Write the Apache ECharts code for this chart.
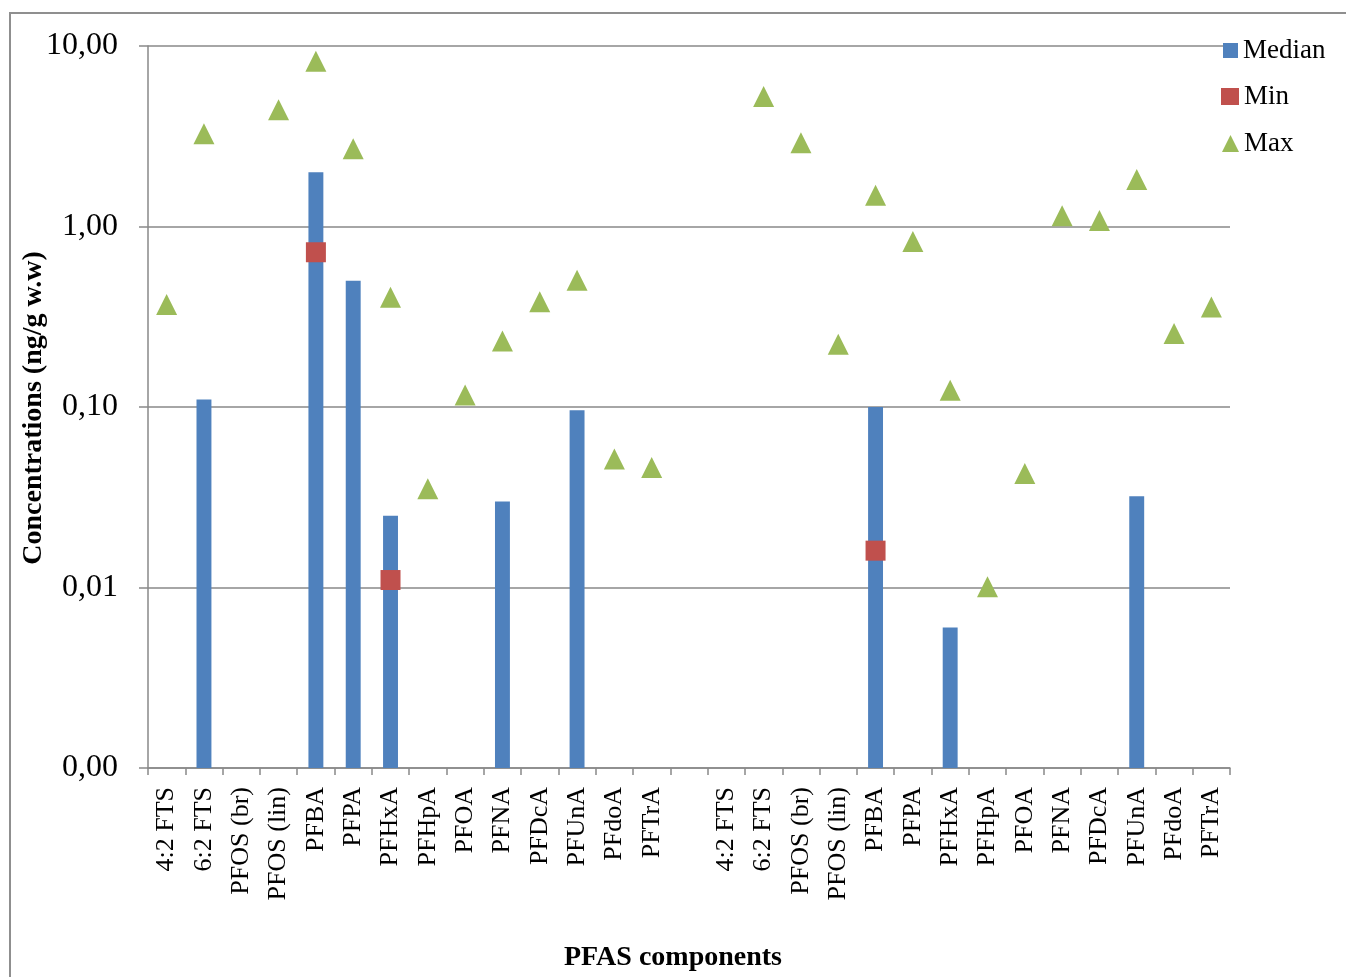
<!DOCTYPE html>
<html>
<head>
<meta charset="utf-8">
<title>PFAS components</title>
<script src="https://cdn.jsdelivr.net/npm/echarts@6/dist/echarts.min.js"></script>
<style>
  html, body { margin: 0; padding: 0; background: #ffffff; }
  #chart { width: 1346px; height: 977px; }
</style>
</head>
<body>
<div id="chart"></div>
<script>
// PFAS components, listed once per group (two groups separated by an empty slot)
const components = ['4:2 FTS', '6:2 FTS', 'PFOS (br)', 'PFOS (lin)', 'PFBA', 'PFPA', 'PFHxA',
  'PFHpA', 'PFOA', 'PFNA', 'PFDcA', 'PFUnA', 'PFdoA', 'PFTrA'];

// Concentrations in ng/g w.w (null = no value)
const medianGroup1 = [null, 0.11, null, null, 2.0, 0.5, 0.025, null, null, 0.03, null, 0.096, null, null];
const medianGroup2 = [null, null, null, null, 0.1, null, 0.006, null, null, null, null, 0.032, null, null];
const minGroup1 = [null, null, null, null, 0.72, null, 0.011, null, null, null, null, null, null, null];
const minGroup2 = [null, null, null, null, 0.016, null, null, null, null, null, null, null, null, null];
const maxGroup1 = [0.37, 3.26, null, 4.43, 8.22, 2.70, 0.406, 0.0353, 0.1165, 0.232, 0.383, 0.504, 0.0515, 0.0462];
const maxGroup2 = [null, 5.25, 2.91, 0.223, 1.49, 0.826, 0.124, 0.0101, 0.0428, 1.148, 1.08, 1.82, 0.255, 0.358];

// Logarithmic value axis range and decade tick labels
const yMin = 0.001;
const yMax = 10;
const yTickLabels = { '0.001': '0,00', '0.01': '0,01', '0.1': '0,10', '1': '1,00', '10': '10,00' };

const categories = [...components, '', ...components];
const medianAll = [...medianGroup1, null, ...medianGroup2];
const minAll = [...minGroup1, null, ...minGroup2];
const maxAll = [...maxGroup1, null, ...maxGroup2];

const serif = 'Liberation Serif, Times New Roman, serif';
const axisGrey = '#898989';

const toScatter = arr => arr.map(v => (v == null ? '-' : v));
const medianData = medianAll.map((v, i) => (v == null ? null : [i, v])).filter(Boolean);

const chart = echarts.init(document.getElementById('chart'), null, { renderer: 'canvas' });

chart.setOption({
  backgroundColor: '#ffffff',
  animation: false,
  textStyle: { fontFamily: serif, color: '#000000' },
  grid: { left: 148, right: 116, top: 46, bottom: 209, containLabel: false, outerBoundsMode: 'none' },
  graphic: [
    {
      type: 'rect', silent: true, z: -10,
      shape: { x: 10, y: 13, width: 1400, height: 1000 },
      style: { fill: null, stroke: '#8f8f8f', lineWidth: 2 }
    },
    {
      type: 'text', silent: true,
      x: 34, y: 408, rotation: Math.PI / 2,
      style: {
        text: 'Concentrations (ng/g w.w)', fontFamily: serif, fontWeight: 'bold', fontSize: 28,
        fill: '#000000', align: 'center', verticalAlign: 'middle'
      }
    },
    {
      type: 'text', silent: true,
      x: 673, y: 958,
      style: {
        text: 'PFAS components', fontFamily: serif, fontWeight: 'bold', fontSize: 28,
        fill: '#000000', align: 'center', verticalAlign: 'middle'
      }
    }
  ],
  legend: [
    {
      data: [{ name: 'Median', icon: 'rect' }],
      left: 1223, top: 37, padding: 0, itemWidth: 15, itemHeight: 15, selectedMode: false,
      textStyle: { fontFamily: serif, fontSize: 27, lineHeight: 27, color: '#000000' }
    },
    {
      data: [{ name: 'Min', icon: 'rect' }],
      left: 1221, top: 83, padding: 0, itemWidth: 18, itemHeight: 17, selectedMode: false,
      textStyle: { fontFamily: serif, fontSize: 27, lineHeight: 27, color: '#000000' }
    },
    {
      data: [{ name: 'Max', icon: 'triangle' }],
      left: 1222, top: 130, padding: 0, itemWidth: 17, itemHeight: 17, selectedMode: false,
      textStyle: { fontFamily: serif, fontSize: 27, lineHeight: 27, color: '#000000' }
    }
  ],
  xAxis: {
    type: 'category',
    data: categories,
    boundaryGap: true,
    axisLine: { show: true, lineStyle: { color: axisGrey, width: 1.5 } },
    axisTick: { show: true, inside: false, length: 7, interval: 0, alignWithLabel: false,
      lineStyle: { color: axisGrey, width: 1.5 } },
    axisLabel: { interval: 0, rotate: 90, margin: 19, fontFamily: serif, fontSize: 26, color: '#000000',
      padding: [0, 0, 0, 0] },
    splitLine: { show: false }
  },
  yAxis: {
    type: 'log',
    logBase: 10,
    min: yMin,
    max: yMax,
    axisLine: { show: true, lineStyle: { color: axisGrey, width: 1.5 } },
    axisTick: { show: true, inside: false, length: 9, lineStyle: { color: axisGrey, width: 1.5 } },
    minorTick: { show: false },
    axisLabel: {
      margin: 30, fontFamily: serif, fontSize: 32, color: '#000000',
      padding: [5, 0, 0, 0],
      formatter: v => {
        const key = String(Number(v.toPrecision(6)));
        return yTickLabels[key] !== undefined ? yTickLabels[key] : v.toFixed(2).replace('.', ',');
      }
    },
    splitLine: { show: true, lineStyle: { color: axisGrey, width: 1.5 } }
  },
  series: [
    {
      name: 'Median',
      type: 'custom',
      z: 2,
      itemStyle: { color: '#4F81BD', opacity: 1 },
      encode: { x: 0, y: 1 },
      data: medianData,
      renderItem: (params, api) => {
        const idx = api.value(0);
        const top = api.coord([idx, api.value(1)]);
        const base = api.coord([idx, yMin]);
        const w = api.size([1, 0])[0] * 0.4;
        return {
          type: 'rect',
          shape: { x: top[0] - w / 2, y: top[1], width: w, height: base[1] - top[1] },
          style: { fill: api.visual('color') }
        };
      }
    },
    {
      name: 'Min',
      type: 'scatter',
      z: 3,
      symbol: 'rect',
      symbolSize: 20,
      itemStyle: { color: '#C0504D', opacity: 1 },
      data: toScatter(minAll)
    },
    {
      name: 'Max',
      type: 'scatter',
      z: 4,
      symbol: 'triangle',
      symbolSize: 21,
      itemStyle: { color: '#9BBB59', opacity: 1 },
      data: toScatter(maxAll)
    }
  ]
});
</script>
</body>
</html>
